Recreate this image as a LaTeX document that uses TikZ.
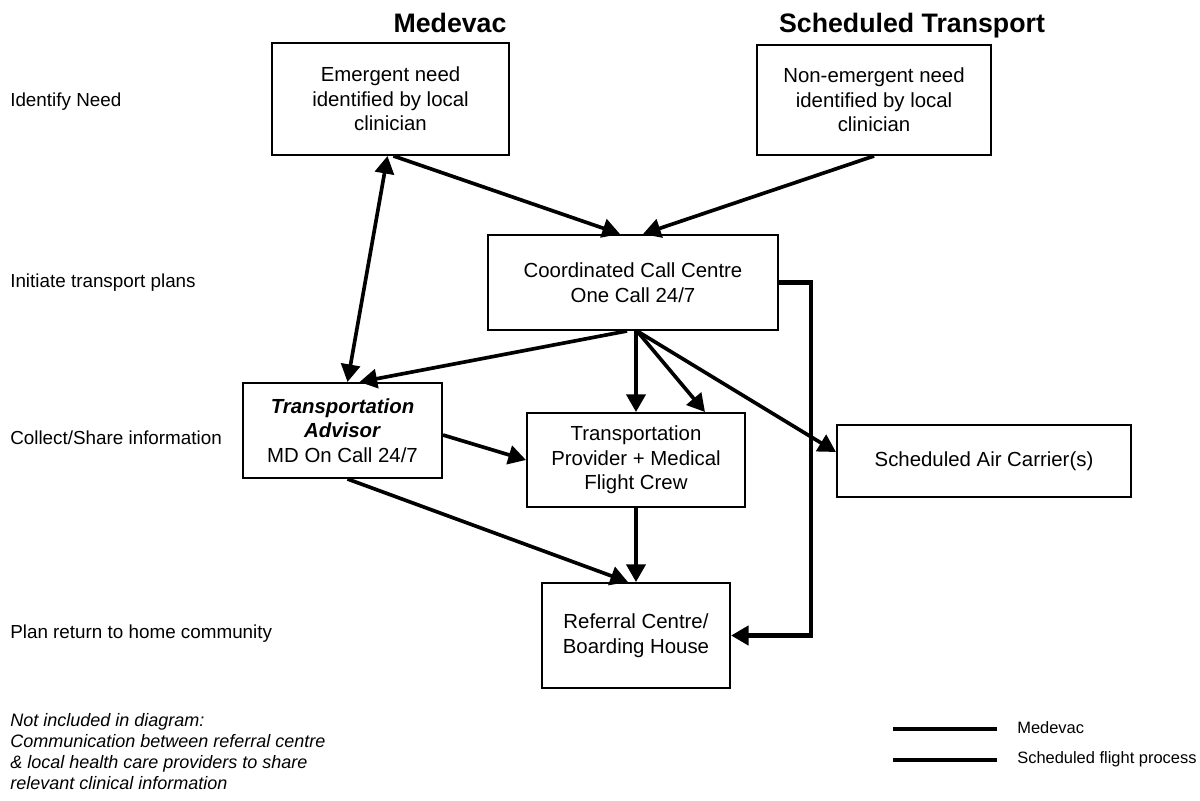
\documentclass[tikz,border=0pt]{standalone}
\usepackage{fontspec}
\setmainfont{Liberation Sans}
\usetikzlibrary{arrows.meta,calc}

\begin{document}
\begin{tikzpicture}[
x=0.025cm, y=-0.025cm,
>={Triangle[length=12.5pt,width=13.5pt]},
every node/.style={font=\fontsize{14.5}{17.5}\selectfont},
box/.style={draw,line width=1.4pt,align=center,inner sep=0pt},
flow/.style={->,line width=2.6pt},
sched/.style={->,line width=3.2pt},
stage/.style={anchor=west,inner sep=0pt,font=\fontsize{13.4}{16}\selectfont},
title/.style={anchor=base,font=\fontsize{19}{22}\selectfont\bfseries}
]
\useasboundingbox (0,0) rectangle (1200,800);

% Column titles
\node[title] (ttlmed) at (450,33) {Medevac};
\node[title] (ttlsched) at (912,33) {Scheduled Transport};

% Stages
\node[stage] (lblneed) at (10,102) {Identify Need};
\node[stage] (lblinit) at (10,283) {Initiate transport plans};
\node[stage] (lblcollect) at (10,438) {Collect/Share information};
\node[stage] (lblreturn) at (10,634) {Plan return to home community};

% Boxes
\node[box,minimum width=5.925cm,minimum height=2.8cm] (emerg) at (390.5,99)
  {Emergent need\\identified by local\\clinician};
\node[box,minimum width=5.85cm,minimum height=2.75cm] (nonemerg) at (874,100)
  {Non-emergent need\\identified by local\\clinician};
\node[box,minimum width=7.25cm,minimum height=2.375cm] (callc) at (633,282.5)
  {Coordinated Call Centre\\One Call 24/7};
\node[box,minimum width=4.975cm,minimum height=2.375cm] (advisor) at (342.5,430.5)
  {\textbf{\textit{Transportation}}\\\textbf{\textit{Advisor}}\\MD On Call 24/7};
\node[box,minimum width=5.45cm,minimum height=2.35cm] (provider) at (636,460)
  {Transportation\\Provider + Medical\\Flight Crew};
\node[box,minimum width=7.35cm,minimum height=1.8cm] (carrier) at (984,461)
  {Scheduled Air Carrier(s)};
\node[box,minimum width=4.7cm,minimum height=2.625cm] (referral) at (636,635.5)
  {Referral Centre/\\Boarding House};

% Need -> call centre
\draw[flow] ($(emerg.south)+(3,0)$) -- ($(callc.north)+(-13,0)$);
\draw[flow] (nonemerg.south) -- ($(callc.north)+(10,0)$);

% Emergent need <-> advisor
\draw[flow,<->] ($(emerg.south)+(-3,0)$) -- ($(advisor.north)+(5,0)$);

% Call centre out
\draw[flow] ($(callc.south)+(-6,0)$) -- ($(advisor.north)+(17,0)$);
\draw[flow] ($(callc.south)+(3,0)$) -- (provider.north);
\draw[flow] ($(callc.south)+(4,0)$) -- ($(provider.north)+(69,0)$);
\draw[flow] ($(callc.south)+(4,0)$) -- ($(carrier.west)+(0,-9)$);

% Advisor out
\draw[flow] ($(advisor.east)+(0,4.5)$) -- (provider.west);
\draw[flow] ($(advisor.south)+(5,0)$) -- ($(referral.north)+(-8,0)$);

% Provider -> referral
\draw[flow] (provider.south) -- (referral.north);

% Scheduled flight process
\draw[sched] (callc.east) -- ++(32,0) |- (referral.east);

% Note
\node[anchor=west,align=left,inner sep=0pt,font=\fontsize{12.8}{15}\selectfont\itshape] (note) at (10,751.5)
  {Not included in diagram:\\Communication between referral centre\\\& local health care providers to share\\relevant clinical information};

% Legend
\coordinate (lgmedA) at (893,729);
\coordinate (lgmedB) at (997,729);
\coordinate (lgschA) at (893,760);
\coordinate (lgschB) at (997,760);
\draw[line width=3.4pt] (lgmedA) -- (lgmedB);
\draw[line width=3pt] (lgschA) -- (lgschB);
\node[anchor=west,inner sep=0pt,font=\fontsize{11.7}{14}\selectfont] (lgmed) at (1017,728) {Medevac};
\node[anchor=west,inner sep=0pt,font=\fontsize{11.7}{14}\selectfont] (lgsch) at (1017,759) {Scheduled flight process};

\end{tikzpicture}
\end{document}
